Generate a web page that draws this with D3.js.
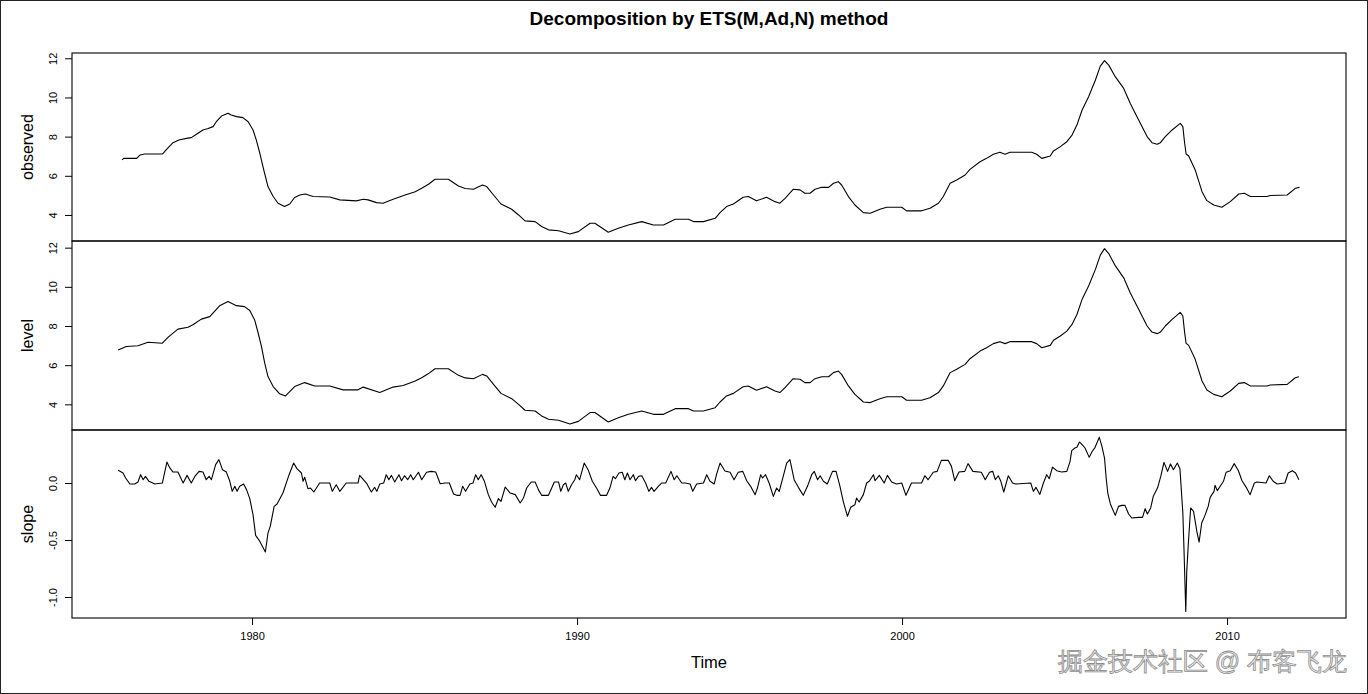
<!DOCTYPE html>
<html><head><meta charset="utf-8">
<script src="https://cdn.jsdelivr.net/npm/d3@7/dist/d3.min.js"></script>
<style>
html,body{margin:0;padding:0;background:#fff;}
text{font-family:"Liberation Sans",Arial,sans-serif;}
</style></head>
<body><svg id="chart" width="1368" height="694"></svg>
<script>
// ---------------- data ----------------
const obsTime = [1976.0,1976.05,1976.45,1976.55,1976.7,1977.24,1977.42,1977.57,1977.75,1977.98,1978.13,1978.29,1978.49,1978.65,1978.8,1978.9,1979.06,1979.26,1979.36,1979.52,1979.72,1979.88,1980.03,1980.13,1980.24,1980.36,1980.49,1980.65,1980.8,1981.0,1981.16,1981.31,1981.47,1981.64,1981.88,1982.39,1982.7,1983.21,1983.42,1983.57,1983.83,1984.03,1984.34,1984.71,1985.02,1985.22,1985.43,1985.63,1986.04,1986.35,1986.56,1986.81,1987.09,1987.22,1987.43,1987.66,1987.99,1988.2,1988.4,1988.71,1988.91,1989.12,1989.43,1989.78,1990.04,1990.4,1990.55,1990.96,1991.27,1991.58,1991.99,1992.35,1992.66,1993.02,1993.43,1993.58,1993.89,1994.25,1994.4,1994.6,1994.81,1995.11,1995.27,1995.52,1995.83,1996.09,1996.24,1996.4,1996.65,1996.86,1997.01,1997.17,1997.32,1997.53,1997.74,1997.89,1998.04,1998.14,1998.35,1998.55,1998.81,1999.02,1999.32,1999.53,1999.99,2000.14,2000.6,2000.86,2001.12,2001.27,2001.48,2001.68,2001.94,2002.09,2002.4,2002.6,2002.81,2003.01,2003.17,2003.32,2003.99,2004.14,2004.3,2004.56,2004.66,2004.87,2005.07,2005.23,2005.38,2005.54,2005.74,2005.95,2006.1,2006.23,2006.36,2006.56,2006.82,2007.02,2007.28,2007.54,2007.69,2007.85,2007.95,2008.1,2008.31,2008.56,2008.64,2008.69,2008.74,2008.82,2009.02,2009.23,2009.38,2009.59,2009.84,2010.1,2010.36,2010.53,2010.72,2011.23,2011.33,2011.85,2012.1,2012.23];
const obsValue = [6.81,6.89,6.89,7.06,7.11,7.11,7.44,7.69,7.83,7.91,7.95,8.12,8.34,8.41,8.51,8.76,9.05,9.19,9.10,9.02,8.97,8.76,8.34,7.83,7.15,6.30,5.45,4.94,4.60,4.43,4.56,4.89,5.02,5.07,4.94,4.92,4.77,4.72,4.80,4.77,4.63,4.60,4.80,5.02,5.19,5.36,5.57,5.82,5.82,5.48,5.35,5.31,5.53,5.45,5.02,4.56,4.29,4.00,3.70,3.66,3.41,3.24,3.19,3.03,3.15,3.58,3.58,3.12,3.32,3.49,3.66,3.49,3.49,3.78,3.78,3.66,3.66,3.83,4.12,4.43,4.56,4.90,4.94,4.72,4.90,4.68,4.60,4.85,5.31,5.28,5.11,5.11,5.31,5.41,5.41,5.62,5.70,5.53,4.94,4.51,4.12,4.09,4.29,4.39,4.39,4.21,4.21,4.34,4.60,4.94,5.62,5.79,6.04,6.33,6.72,6.89,7.10,7.20,7.10,7.20,7.20,7.10,6.89,7.01,7.27,7.49,7.74,8.08,8.59,9.36,10.04,10.89,11.60,11.88,11.65,11.06,10.46,9.70,8.85,8.00,7.69,7.61,7.69,8.00,8.34,8.68,8.51,7.74,7.11,7.01,6.30,5.19,4.73,4.51,4.39,4.68,5.07,5.11,4.94,4.94,4.99,5.02,5.36,5.41];

const levelTime = [1975.88,1976.13,1976.49,1976.8,1977.24,1977.42,1977.72,1978.03,1978.18,1978.44,1978.7,1979.0,1979.26,1979.52,1979.77,1979.93,1980.08,1980.19,1980.29,1980.39,1980.49,1980.65,1980.85,1981.03,1981.31,1981.62,1981.93,1982.39,1982.8,1983.26,1983.42,1983.93,1984.34,1984.65,1985.02,1985.22,1985.43,1985.63,1986.04,1986.35,1986.56,1986.81,1987.09,1987.22,1987.43,1987.66,1987.99,1988.2,1988.4,1988.71,1988.91,1989.12,1989.43,1989.78,1990.04,1990.4,1990.55,1990.96,1991.27,1991.58,1991.99,1992.35,1992.66,1993.02,1993.43,1993.58,1993.89,1994.25,1994.4,1994.6,1994.81,1995.11,1995.27,1995.52,1995.83,1996.09,1996.24,1996.4,1996.65,1996.86,1997.01,1997.17,1997.32,1997.53,1997.74,1997.89,1998.04,1998.14,1998.35,1998.55,1998.81,1999.02,1999.32,1999.53,1999.99,2000.14,2000.6,2000.86,2001.12,2001.27,2001.48,2001.68,2001.94,2002.09,2002.4,2002.6,2002.81,2003.01,2003.17,2003.32,2003.99,2004.14,2004.3,2004.56,2004.66,2004.87,2005.07,2005.23,2005.38,2005.54,2005.74,2005.95,2006.1,2006.23,2006.36,2006.56,2006.82,2007.02,2007.28,2007.54,2007.69,2007.85,2007.95,2008.1,2008.31,2008.56,2008.64,2008.69,2008.74,2008.82,2009.02,2009.23,2009.38,2009.59,2009.84,2010.1,2010.36,2010.53,2010.72,2011.23,2011.33,2011.85,2012.1,2012.21];
const levelValue = [6.78,6.95,6.99,7.17,7.12,7.43,7.84,7.94,8.06,8.35,8.48,9.03,9.25,9.04,8.99,8.79,8.31,7.63,6.95,6.10,5.42,4.91,4.54,4.43,4.91,5.11,4.94,4.94,4.74,4.74,4.88,4.60,4.88,4.96,5.19,5.36,5.57,5.82,5.82,5.48,5.35,5.31,5.53,5.45,5.02,4.56,4.29,4.00,3.70,3.66,3.41,3.24,3.19,3.00,3.13,3.58,3.58,3.10,3.32,3.49,3.66,3.49,3.49,3.78,3.78,3.66,3.66,3.83,4.12,4.43,4.56,4.90,4.94,4.72,4.90,4.68,4.60,4.85,5.31,5.28,5.11,5.11,5.31,5.41,5.41,5.62,5.70,5.53,4.94,4.51,4.12,4.09,4.29,4.39,4.39,4.21,4.21,4.34,4.60,4.94,5.62,5.79,6.04,6.33,6.72,6.89,7.10,7.20,7.10,7.20,7.20,7.10,6.89,7.01,7.27,7.49,7.74,8.08,8.59,9.36,10.04,10.89,11.62,11.95,11.70,11.08,10.46,9.70,8.85,8.00,7.69,7.61,7.69,8.00,8.34,8.70,8.51,7.74,7.11,7.01,6.30,5.19,4.73,4.51,4.39,4.68,5.07,5.11,4.94,4.94,4.99,5.02,5.36,5.41];

const slopeTime = [1975.88,1976.03,1976.11,1976.24,1976.39,1976.49,1976.57,1976.65,1976.72,1976.83,1977.01,1977.24,1977.38,1977.47,1977.57,1977.72,1977.88,1978.0,1978.13,1978.24,1978.37,1978.49,1978.59,1978.68,1978.75,1978.88,1978.98,1979.09,1979.21,1979.31,1979.39,1979.47,1979.54,1979.62,1979.74,1979.83,1979.93,1980.03,1980.11,1980.24,1980.41,1980.49,1980.56,1980.68,1980.77,1980.95,1981.14,1981.28,1981.38,1981.52,1981.57,1981.62,1981.72,1981.8,1981.9,1982.08,1982.39,1982.47,1982.59,1982.7,1982.9,1983.26,1983.31,1983.52,1983.67,1983.77,1983.84,1983.93,1984.05,1984.13,1984.21,1984.29,1984.39,1984.52,1984.6,1984.69,1984.79,1984.88,1984.96,1985.12,1985.22,1985.37,1985.51,1985.65,1985.79,1985.94,1986.07,1986.2,1986.3,1986.4,1986.48,1986.57,1986.7,1986.8,1986.88,1986.96,1987.05,1987.15,1987.27,1987.37,1987.48,1987.58,1987.66,1987.79,1987.94,1988.1,1988.25,1988.35,1988.45,1988.59,1988.71,1988.81,1988.91,1989.12,1989.22,1989.3,1989.43,1989.5,1989.58,1989.65,1989.73,1989.83,1989.93,1989.98,1990.08,1990.22,1990.34,1990.47,1990.6,1990.72,1990.91,1991.01,1991.11,1991.18,1991.29,1991.39,1991.47,1991.55,1991.63,1991.73,1991.8,1991.89,1991.99,1992.11,1992.21,1992.29,1992.37,1992.5,1992.6,1992.73,1992.89,1992.99,1993.07,1993.22,1993.32,1993.48,1993.56,1993.68,1993.89,1993.99,1994.09,1994.22,1994.29,1994.4,1994.55,1994.71,1994.83,1994.96,1995.1,1995.22,1995.34,1995.48,1995.55,1995.65,1995.71,1995.8,1995.91,1996.04,1996.14,1996.22,1996.35,1996.45,1996.55,1996.68,1996.81,1996.96,1997.09,1997.22,1997.3,1997.4,1997.48,1997.58,1997.7,1997.86,1997.97,1998.09,1998.19,1998.32,1998.42,1998.55,1998.6,1998.68,1998.81,1998.91,1998.99,1999.12,1999.17,1999.3,1999.45,1999.55,1999.68,1999.83,1999.99,2000.12,2000.29,2000.6,2000.7,2000.8,2000.96,2001.08,2001.21,2001.42,2001.52,2001.62,2001.75,2001.93,2002.03,2002.18,2002.44,2002.56,2002.69,2002.79,2002.87,2002.96,2003.04,2003.13,2003.27,2003.4,2003.5,2003.96,2004.04,2004.12,2004.24,2004.35,2004.45,2004.53,2004.63,2004.76,2004.91,2005.07,2005.17,2005.22,2005.32,2005.38,2005.46,2005.56,2005.63,2005.76,2005.84,2005.94,2006.07,2006.15,2006.23,2006.28,2006.33,2006.41,2006.56,2006.66,2006.76,2006.86,2006.97,2007.07,2007.27,2007.4,2007.48,2007.55,2007.65,2007.73,2007.86,2007.96,2008.06,2008.17,2008.26,2008.35,2008.47,2008.55,2008.64,2008.68,2008.73,2008.76,2008.81,2008.88,2008.97,2009.07,2009.14,2009.22,2009.32,2009.42,2009.48,2009.6,2009.63,2009.7,2009.81,2009.89,2009.97,2010.1,2010.22,2010.35,2010.46,2010.59,2010.71,2010.84,2010.92,2011.2,2011.3,2011.42,2011.54,2011.78,2011.88,2012.01,2012.11,2012.21];
const slopeValue = [0.111,0.088,0.044,-0.009,-0.009,0.009,0.073,0.029,0.058,0.015,-0.009,0.0,0.184,0.132,0.096,0.096,0.0,0.067,0.0,0.058,0.102,0.096,0.029,0.058,0.029,0.161,0.205,0.117,0.096,0.020,-0.073,-0.029,-0.073,-0.029,-0.009,-0.058,-0.137,-0.278,-0.459,-0.512,-0.605,-0.439,-0.380,-0.205,-0.184,-0.088,0.073,0.175,0.126,0.088,0.015,0.050,-0.050,-0.044,-0.079,0.0,0.0,-0.073,-0.015,-0.073,0.0,0.0,0.067,0.0,-0.079,-0.038,-0.073,-0.009,0.0,0.073,0.029,0.067,0.009,0.073,0.020,0.064,0.029,0.073,0.029,0.094,0.029,0.094,0.102,0.096,-0.006,0.0,0.0,-0.096,-0.108,-0.108,-0.029,-0.073,-0.009,0.0,0.073,0.029,0.073,0.015,-0.102,-0.167,-0.213,-0.137,-0.161,-0.035,-0.088,-0.102,-0.175,-0.132,-0.044,0.009,0.009,-0.058,-0.108,-0.108,-0.044,0.009,0.009,-0.073,-0.015,0.0,-0.073,-0.015,0.029,0.073,0.029,0.175,0.117,0.015,-0.044,-0.108,-0.108,-0.044,0.058,0.038,0.088,0.094,0.029,0.088,0.029,0.073,0.020,0.058,0.064,0.0,-0.073,-0.038,-0.073,-0.029,0.0,0.0,0.102,0.029,0.064,0.0,0.0,-0.009,-0.073,-0.009,0.0,0.073,0.015,-0.009,0.073,0.175,0.105,0.094,0.029,0.094,0.102,0.020,-0.029,-0.102,-0.044,0.073,0.044,0.073,0.0,-0.117,-0.044,-0.073,0.064,0.175,0.205,0.029,-0.038,-0.108,-0.029,0.073,0.102,0.029,0.064,0.015,-0.009,0.102,0.102,-0.029,-0.161,-0.292,-0.213,-0.190,-0.132,-0.167,-0.102,0.0,0.015,0.073,0.020,0.067,0.0,0.067,0.009,-0.009,0.0,-0.108,0.0,0.0,0.064,0.029,0.094,0.102,0.199,0.199,0.146,0.020,0.096,0.102,0.170,0.102,0.094,0.029,0.094,0.102,0.029,0.064,0.015,-0.079,0.064,0.0,-0.009,0.0,-0.073,-0.038,-0.100,0.0,0.073,0.038,0.140,0.108,0.096,0.102,0.190,0.284,0.307,0.313,0.360,0.330,0.307,0.225,0.272,0.313,0.401,0.322,0.219,0.044,-0.088,-0.184,-0.284,-0.205,-0.196,-0.196,-0.272,-0.307,-0.301,-0.301,-0.225,-0.272,-0.219,-0.117,-0.044,0.058,0.181,0.102,0.167,0.117,0.175,0.126,-0.263,-0.629,-1.126,-0.775,-0.526,-0.219,-0.249,-0.424,-0.518,-0.351,-0.284,-0.205,-0.126,-0.073,-0.020,-0.067,-0.020,0.015,0.094,0.108,0.170,0.108,0.020,-0.038,-0.102,0.0,0.009,0.0,0.064,0.015,-0.009,0.0,0.088,0.108,0.088,0.029];

const xTicks = [1980, 1990, 2000, 2010];
const obsTicks = [4, 6, 8, 10, 12];
const levelTicks = [4, 6, 8, 10, 12];
const slopeTicks = [-1.0, -0.5, 0.0];
const titleText = "Decomposition by ETS(M,Ad,N) method";
const panelNames = ["observed", "level", "slope"];

// ---------------- drawing ----------------
const svg = d3.select("#chart");
const W = 1368, H = 694;
const L = 72, R = 1346;

svg.append("rect").attr("x",0.5).attr("y",0.5).attr("width",W-1).attr("height",H-1)
  .attr("fill","#fff").attr("stroke","#222").attr("stroke-width",1);

const x = d3.scaleLinear().domain([1974.46, 2013.66]).range([L, R]);

const panels = [
  {name: panelNames[0], top: 53, bottom: 241, dom: [2.67, 12.27], t: obsTime, v: obsValue, ticks: obsTicks, fmt: d3.format("d")},
  {name: panelNames[1], top: 241, bottom: 430, dom: [2.69, 12.34], t: levelTime, v: levelValue, ticks: levelTicks, fmt: d3.format("d")},
  {name: panelNames[2], top: 430, bottom: 618, dom: [-1.184, 0.465], t: slopeTime, v: slopeValue, ticks: slopeTicks, fmt: d3.format(".1f")}
];

panels.forEach(p => {
  const y = d3.scaleLinear().domain(p.dom).range([p.bottom, p.top]);
  const data = p.t.map((tt, i) => [tt, p.v[i]]);
  svg.append("path").datum(data)
    .attr("fill","none").attr("stroke","#000").attr("stroke-width",1.1)
    .attr("stroke-linejoin","round")
    .attr("d", d3.line().x(d => x(d[0])).y(d => y(d[1])));

  const ax = svg.append("g").attr("transform", `translate(${L},0)`)
    .call(d3.axisLeft(y).tickValues(p.ticks).tickFormat(p.fmt).tickSize(7).tickSizeOuter(0));
  ax.select(".domain").remove();
  ax.selectAll(".tick line").attr("stroke","#000");
  ax.selectAll(".tick text")
    .attr("x", 0).attr("dy", null).attr("y", -15)
    .attr("transform","rotate(-90)")
    .attr("text-anchor","middle")
    .attr("font-size", 11).attr("fill","#000")
    .attr("font-family", '"Liberation Sans",Arial,sans-serif')
    .text(d => p.fmt(d).replace("\u2212", "-"));

  svg.append("text")
    .attr("transform", `translate(33,${(p.top + p.bottom)/2}) rotate(-90)`)
    .attr("text-anchor","middle").attr("font-size",16).attr("fill","#000")
    .text(p.name);

  svg.append("rect").attr("x", L).attr("y", p.top).attr("width", R - L).attr("height", p.bottom - p.top)
    .attr("fill","none").attr("stroke","#000").attr("stroke-width",1.1);
});

const xa = svg.append("g").attr("transform", `translate(0,618)`)
  .call(d3.axisBottom(x).tickValues(xTicks).tickFormat(d3.format("d")).tickSize(7).tickSizeOuter(0));
xa.select(".domain").remove();
xa.selectAll(".tick line").attr("stroke","#000");
xa.selectAll(".tick text").attr("y", 14).attr("dy","0.71em").attr("font-size",11).attr("fill","#000")
  .attr("font-family", '"Liberation Sans",Arial,sans-serif');

svg.append("text").attr("x", (L+R)/2).attr("y", 25).attr("text-anchor","middle")
  .attr("font-size",19).attr("font-weight","bold").attr("fill","#000").text(titleText);

svg.append("text").attr("x", (L+R)/2).attr("y", 668).attr("text-anchor","middle")
  .attr("font-size",16.5).attr("fill","#000").text("Time");

// watermark
const wm = "掘金技术社区 @ 布客飞龙";
svg.append("text").attr("x", 1347).attr("y", 670).attr("text-anchor","end")
  .attr("font-size",25).attr("font-family",'"Noto Sans CJK SC",sans-serif')
  .attr("fill","#ececec").attr("stroke","#8e8e8e").attr("stroke-width",0.8).text(wm);
</script></body></html>
